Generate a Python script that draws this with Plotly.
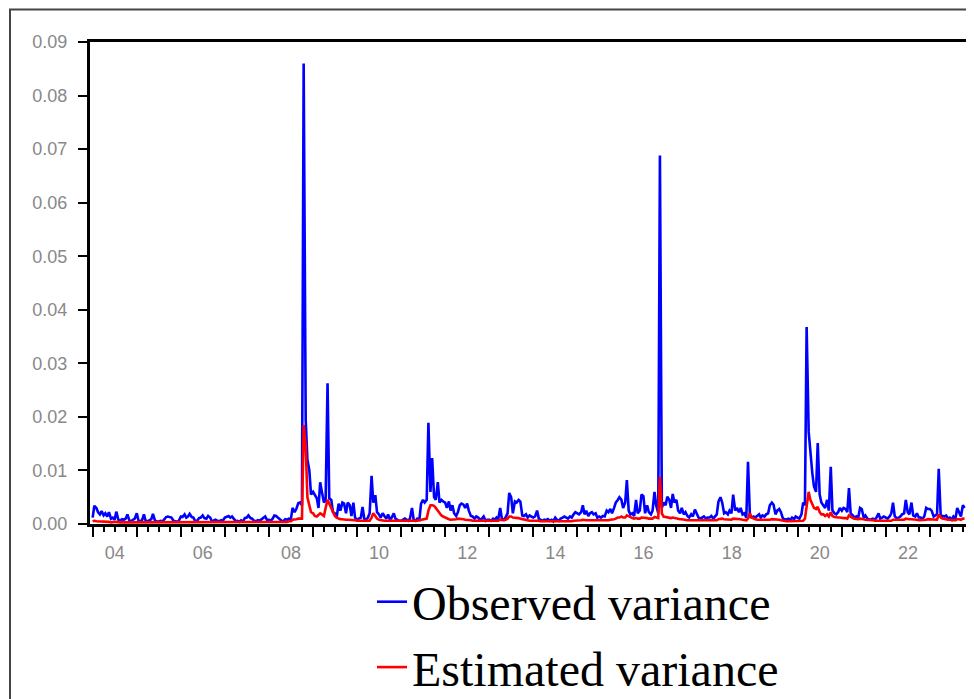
import pandas as pd
import plotly.graph_objects as go

# Values in units of 1e-4 (semi-monthly observations, Jan 2004 - Oct 2023)
SCALE = 1e-4
OBSERVED = [
    # 2004
    12, 34, 30, 22, 18, 24, 16, 20, 14, 22, 10, 12, 8, 23, 8, 6, 9, 8, 10, 18, 6, 5, 8, 10,
    # 2005
    20, 6, 5, 8, 18, 6, 5, 7, 9, 19, 6, 5, 4, 6, 5, 8, 13, 14, 13, 12, 6, 5, 4, 6,
    # 2006
    14, 13, 18, 12, 14, 19, 13, 12, 5, 6, 11, 12, 16, 11, 10, 15, 12, 5, 6, 8, 6, 5, 7, 6,
    # 2007
    12, 13, 15, 12, 14, 10, 5, 6, 4, 7, 5, 11, 12, 16, 11, 10, 6, 5, 7, 6, 9, 12, 14, 8,
    # 2008
    8, 6, 10, 16, 15, 12, 8, 6, 5, 9, 8, 10, 9, 30, 22, 28, 39, 40, 35, 860, 194, 120, 100, 55,
    # 2009
    60, 55, 48, 30, 78, 60, 40, 45, 263, 48, 45, 22, 20, 12, 38, 25, 40, 38, 20, 40, 35, 15, 40, 12,
    # 2010
    8, 10, 12, 32, 10, 8, 12, 20, 90, 40, 54, 22, 18, 12, 20, 15, 10, 18, 8, 12, 20, 10, 8, 6,
    # 2011
    6, 8, 10, 8, 6, 10, 30, 8, 6, 10, 8, 38, 45, 40, 45, 189, 60, 123, 50, 45, 78, 40, 45, 42,
    # 2012
    40, 30, 42, 25, 35, 20, 15, 22, 35, 38, 36, 30, 38, 25, 15, 14, 10, 14, 12, 8, 10, 14, 6, 8,
    # 2013
    8, 6, 10, 8, 12, 8, 30, 10, 8, 12, 20, 58, 50, 20, 42, 40, 45, 42, 16, 15, 18, 12, 16, 14,
    # 2014
    12, 14, 25, 10, 8, 6, 8, 7, 9, 6, 8, 5, 12, 8, 6, 10, 12, 14, 12, 10, 14, 12, 18, 22,
    # 2015
    20, 18, 22, 35, 18, 25, 15, 20, 22, 18, 20, 12, 14, 12, 15, 14, 25, 22, 28, 20, 30, 40, 45, 50,
    # 2016
    45, 30, 40, 82, 25, 18, 20, 15, 45, 20, 25, 55, 52, 20, 35, 22, 18, 25, 60, 35, 20, 688, 30, 40,
    # 2017
    35, 51, 45, 30, 56, 40, 45, 25, 20, 30, 18, 22, 15, 12, 18, 14, 27, 20, 12, 10, 12, 14, 10, 12,
    # 2018
    12, 15, 10, 14, 18, 42, 50, 40, 20, 22, 18, 25, 20, 55, 25, 30, 22, 30, 18, 20, 12, 116, 14, 12,
    # 2019
    14, 12, 15, 18, 12, 16, 14, 18, 20, 35, 40, 36, 18, 25, 28, 22, 10, 9, 8, 10, 8, 12, 9, 14,
    # 2020
    12, 10, 18, 40, 35, 368, 172, 130, 95, 70, 60, 151, 55, 40, 35, 30, 45, 25, 107, 25, 20, 18, 22, 30,
    # 2021
    25, 30, 28, 22, 67, 20, 16, 12, 14, 10, 30, 28, 12, 16, 10, 8, 9, 10, 8, 12, 20, 10, 12, 14,
    # 2022
    12, 10, 14, 20, 40, 15, 10, 12, 14, 18, 20, 45, 22, 18, 40, 16, 14, 20, 12, 12, 10, 14, 30, 28,
    # 2023
    28, 25, 14, 16, 18, 103, 12, 15, 14, 16, 10, 12, 8, 14, 10, 30, 20, 14, 35, 30,
]
ESTIMATED = [
    # 2004
    5, 6, 5, 5, 4, 5, 4, 4, 4, 4, 3, 4, 4, 4, 3, 3, 3, 3, 3, 3, 3, 3, 3, 3,
    # 2005
    3, 3, 3, 3, 3, 3, 3, 3, 3, 3, 3, 3, 3, 3, 3, 3, 3, 3, 3, 3, 3, 3, 3, 3,
    # 2006
    3, 3, 3, 3, 3, 3, 3, 3, 3, 3, 3, 3, 3, 3, 3, 3, 3, 3, 3, 3, 3, 3, 3, 3,
    # 2007
    3, 3, 3, 3, 3, 3, 3, 3, 3, 3, 3, 3, 3, 3, 3, 3, 3, 3, 3, 3, 3, 3, 3, 3,
    # 2008
    3, 3, 3, 3, 3, 3, 3, 3, 4, 4, 4, 5, 5, 8, 8, 9, 10, 10, 10, 185, 145, 50, 35, 22,
    # 2009
    20, 15, 14, 18, 20, 18, 15, 30, 45, 38, 30, 22, 15, 12, 10, 9, 9, 8, 8, 8, 8, 7, 7, 7,
    # 2010
    6, 6, 6, 6, 6, 6, 6, 6, 12, 20, 15, 10, 8, 7, 6, 6, 6, 6, 6, 5, 5, 5, 5, 5,
    # 2011
    5, 5, 5, 5, 5, 5, 6, 6, 6, 6, 7, 8, 9, 9, 10, 25, 35, 35, 34, 30, 25, 20, 16, 14,
    # 2012
    12, 10, 9, 8, 8, 9, 9, 10, 10, 10, 9, 8, 8, 7, 7, 6, 6, 6, 6, 5, 5, 5, 5, 5,
    # 2013
    5, 5, 5, 5, 5, 6, 8, 7, 7, 8, 10, 14, 14, 12, 12, 12, 11, 10, 9, 8, 7, 7, 6, 6,
    # 2014
    6, 6, 7, 6, 5, 5, 5, 4, 4, 4, 4, 4, 4, 4, 4, 4, 5, 5, 5, 5, 5, 5, 6, 6,
    # 2015
    6, 6, 7, 8, 7, 7, 7, 7, 7, 6, 6, 6, 6, 6, 6, 6, 7, 7, 8, 8, 9, 10, 12, 12,
    # 2016
    14, 12, 12, 16, 14, 12, 11, 10, 11, 10, 10, 12, 12, 11, 11, 10, 10, 10, 13, 12, 11, 88, 20, 14,
    # 2017
    13, 12, 11, 11, 12, 11, 10, 10, 9, 9, 8, 8, 7, 7, 7, 7, 7, 7, 6, 6, 6, 6, 6, 6,
    # 2018
    6, 6, 6, 6, 7, 9, 10, 10, 9, 9, 8, 8, 8, 10, 10, 9, 9, 9, 8, 8, 7, 10, 20, 12,
    # 2019
    10, 9, 8, 8, 7, 7, 7, 7, 7, 8, 9, 9, 8, 8, 8, 7, 6, 6, 5, 5, 5, 5, 5, 5,
    # 2020
    5, 5, 5, 6, 10, 30, 60, 45, 38, 30, 28, 32, 22, 18, 18, 15, 18, 14, 22, 15, 13, 12, 12, 12,
    # 2021
    11, 11, 11, 10, 16, 13, 11, 10, 9, 9, 10, 10, 9, 8, 8, 7, 7, 7, 6, 6, 6, 6, 6, 6,
    # 2022
    6, 6, 6, 6, 8, 8, 7, 7, 7, 8, 8, 10, 9, 9, 9, 9, 8, 8, 7, 7, 7, 7, 8, 9,
    # 2023
    9, 9, 8, 8, 8, 18, 12, 10, 9, 9, 8, 8, 7, 7, 7, 9, 9, 8, 10, 10,
]
START_DATE = "2004-01-01"
SERIES_NAMES = ["Observed variance", "Estimated variance"]
Y_TICKS = [0.00, 0.01, 0.02, 0.03, 0.04, 0.05, 0.06, 0.07, 0.08, 0.09]
HIDDEN_YEAR_LABELS = ["05", "07", "09", "11", "13", "15", "17", "19", "21", "23"]

dates = pd.date_range(START_DATE, periods=len(OBSERVED), freq="SMS")
obs = [v * SCALE for v in OBSERVED]
est = [v * SCALE for v in ESTIMATED]

fig = go.Figure()
fig.add_trace(go.Scatter(x=dates, y=obs, mode="lines", name=SERIES_NAMES[0],
                         line=dict(color="#0000FF", width=2.6)))
fig.add_trace(go.Scatter(x=dates, y=est, mode="lines", name=SERIES_NAMES[1],
                         line=dict(color="#FF0000", width=2.6)))

# the page body adds an 8px offset, so the figure is laid out in page pixels minus 8
OFF = 8
W, H = 974 - OFF, 699 - OFF
L, R, T, B = 90 - OFF, 8, 42 - OFF, 175
pw, ph = W - L - R, H - T - B

def px_x(p):
    return (p - OFF - L) / pw

def px_y(p):
    return (H - B - (p - OFF)) / ph

fig.update_layout(
    width=W, height=H,
    margin=dict(l=L, r=R, t=T, b=B, autoexpand=False),
    paper_bgcolor="white", plot_bgcolor="white",
    showlegend=True,
    legend=dict(
        xref="container", yref="container",
        x=(372 - OFF) / W, y=1 - (564 - OFF) / H, xanchor="left", yanchor="top",
        font=dict(family="Liberation Serif", size=48, color="black"),
        bgcolor="rgba(0,0,0,0)", tracegroupgap=0,
    ),
    xaxis=dict(
        type="date", automargin=False,
        range=["2003-12-10", "2023-10-27"],
        tick0=START_DATE, dtick="M12", tickformat="%y",
        ticklabelmode="period",
        labelalias={k: "" for k in HIDDEN_YEAR_LABELS},
        ticks="outside", ticklen=10, tickwidth=2, tickcolor="black",
        minor=dict(dtick="M3", tick0=START_DATE, ticks="outside", ticklen=5,
                   tickwidth=2, tickcolor="black", showgrid=False),
        showline=True, linecolor="black", linewidth=3, mirror=True,
        showgrid=False, zeroline=False,
        tickfont=dict(family="Liberation Sans", size=18, color="#888888"),
    ),
    yaxis=dict(
        range=[0, 0.09], tickvals=Y_TICKS, tickformat=".2f", automargin=False,
        ticks="outside", ticklen=9, tickwidth=2, tickcolor="black",
        showline=True, linecolor="black", linewidth=3, mirror=True,
        showgrid=False, zeroline=False,
        ticklabelstandoff=7,
        tickfont=dict(family="Liberation Sans", size=18, color="#888888"),
    ),
    shapes=[dict(type="rect", xref="paper", yref="paper",
                 x0=px_x(10), x1=px_x(990), y0=px_y(715), y1=px_y(9.5),
                 line=dict(color="#444444", width=2), fillcolor="rgba(0,0,0,0)",
                 layer="below")],
)

fig.write_html("out.html")
